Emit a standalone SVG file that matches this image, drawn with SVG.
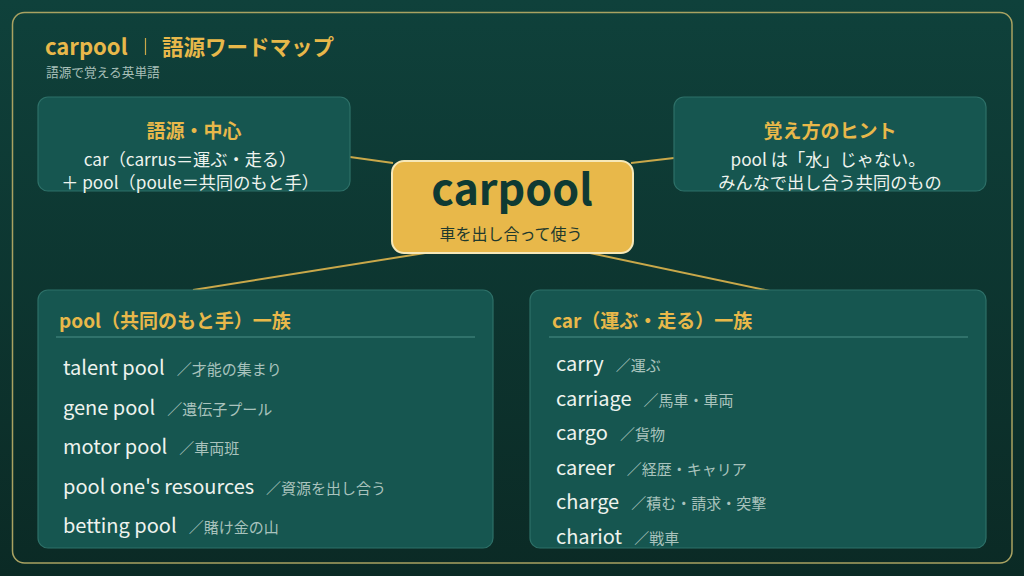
<svg xmlns="http://www.w3.org/2000/svg" width="1024" height="576" viewBox="0 0 1024 576">
  <defs>
    <linearGradient id="bg" x1="0" y1="0" x2="0" y2="1">
      <stop offset="0" stop-color="#0f413b"/>
      <stop offset="1" stop-color="#0b2a25"/>
    </linearGradient>
    <style>
      text { font-family: "Noto Sans CJK JP", "Noto Sans", sans-serif; }
      .card { fill: #165650; stroke: #2d7068; stroke-width: 1.2; }
      .gold { fill: #e8b84a; font-weight: 700; }
      .body { fill: #eef3ee; }
      .note { fill: #a9c3bd; font-size: 15px; }
      .term { fill: #eef3ee; font-size: 20px; }
      .conn { stroke: #c9a84a; stroke-width: 2; fill: none; }
      .rule { stroke: #3a7d74; stroke-width: 1.5; }
    </style>
  </defs>
  <rect x="0" y="0" width="1024" height="576" fill="url(#bg)"/>
  <rect x="12.5" y="12.5" width="999.5" height="550.5" rx="12" fill="none" stroke="#a9a262" stroke-width="1.5"/>

  <g id="title">
    <text x="45" y="55" class="gold" font-size="22">carpool</text>
    <line x1="145.5" y1="38" x2="145.5" y2="55" stroke="#c9a84a" stroke-width="1.2"/>
    <text x="162" y="55" class="gold" font-size="21.5">語源ワードマップ</text>
    <text x="46" y="77" fill="#a9c0ba" font-size="12.7">語源で覚える英単語</text>
  </g>

  <g id="connectors">
    <line class="conn" x1="350" y1="157" x2="393" y2="163"/>
    <line class="conn" x1="631" y1="163" x2="674" y2="158"/>
    <line class="conn" x1="425" y1="253" x2="193" y2="290"/>
    <line class="conn" x1="590" y1="253" x2="770" y2="291"/>
  </g>

  <g id="node-origin">
    <rect class="card" x="38" y="97" width="312" height="94" rx="10"/>
    <text x="194" y="138" class="gold" font-size="19" text-anchor="middle">語源・中心</text>
    <text x="190" y="166" class="body" font-size="17.2" text-anchor="middle">car（carrus＝運ぶ・走る）</text>
    <text x="190" y="189" class="body" font-size="17.2" text-anchor="middle">＋ pool（poule＝共同のもと手）</text>
  </g>

  <g id="node-hint">
    <rect class="card" x="674" y="97" width="312" height="94" rx="10"/>
    <text x="830" y="138" class="gold" font-size="19" text-anchor="middle">覚え方のヒント</text>
    <text x="828" y="166" class="body" font-size="17.2" text-anchor="middle">pool は「水」じゃない。</text>
    <text x="830" y="189" class="body" font-size="17.2" text-anchor="middle">みんなで出し合う共同のもの</text>
  </g>

  <g id="node-center">
    <rect x="392" y="161" width="241" height="92" rx="12" fill="#e8b84a" stroke="#f6e8b8" stroke-width="2"/>
    <text x="512" y="205" font-size="43" font-weight="700" fill="#0f3a33" text-anchor="middle">carpool</text>
    <text x="511" y="240" font-size="16" fill="#1f3a2e" text-anchor="middle">車を出し合って使う</text>
  </g>

  <g id="node-pool">
    <rect class="card" x="38" y="290" width="455" height="258" rx="10"/>
    <text x="59" y="328" class="gold" font-size="19">pool（共同のもと手）一族</text>
    <line class="rule" x1="56" y1="337" x2="475" y2="337"/>
    <text x="63" y="375"><tspan class="term">talent pool</tspan><tspan class="note" dx="12">／才能の集まり</tspan></text>
    <text x="63" y="415"><tspan class="term">gene pool</tspan><tspan class="note" dx="12">／遺伝子プール</tspan></text>
    <text x="63" y="454"><tspan class="term">motor pool</tspan><tspan class="note" dx="12">／車両班</tspan></text>
    <text x="63" y="494"><tspan class="term">pool one's resources</tspan><tspan class="note" dx="12">／資源を出し合う</tspan></text>
    <text x="63" y="533"><tspan class="term">betting pool</tspan><tspan class="note" dx="12">／賭け金の山</tspan></text>
  </g>

  <g id="node-car">
    <rect class="card" x="530" y="290" width="456" height="258" rx="10"/>
    <text x="552" y="328" class="gold" font-size="19">car（運ぶ・走る）一族</text>
    <line class="rule" x1="549" y1="337" x2="968" y2="337"/>
    <text x="556" y="371"><tspan class="term">carry</tspan><tspan class="note" dx="12">／運ぶ</tspan></text>
    <text x="556" y="406"><tspan class="term">carriage</tspan><tspan class="note" dx="12">／馬車・車両</tspan></text>
    <text x="556" y="440"><tspan class="term">cargo</tspan><tspan class="note" dx="12">／貨物</tspan></text>
    <text x="556" y="475"><tspan class="term">career</tspan><tspan class="note" dx="12">／経歴・キャリア</tspan></text>
    <text x="556" y="509"><tspan class="term">charge</tspan><tspan class="note" dx="12">／積む・請求・突撃</tspan></text>
    <text x="556" y="544"><tspan class="term">chariot</tspan><tspan class="note" dx="12">／戦車</tspan></text>
  </g>
</svg>
